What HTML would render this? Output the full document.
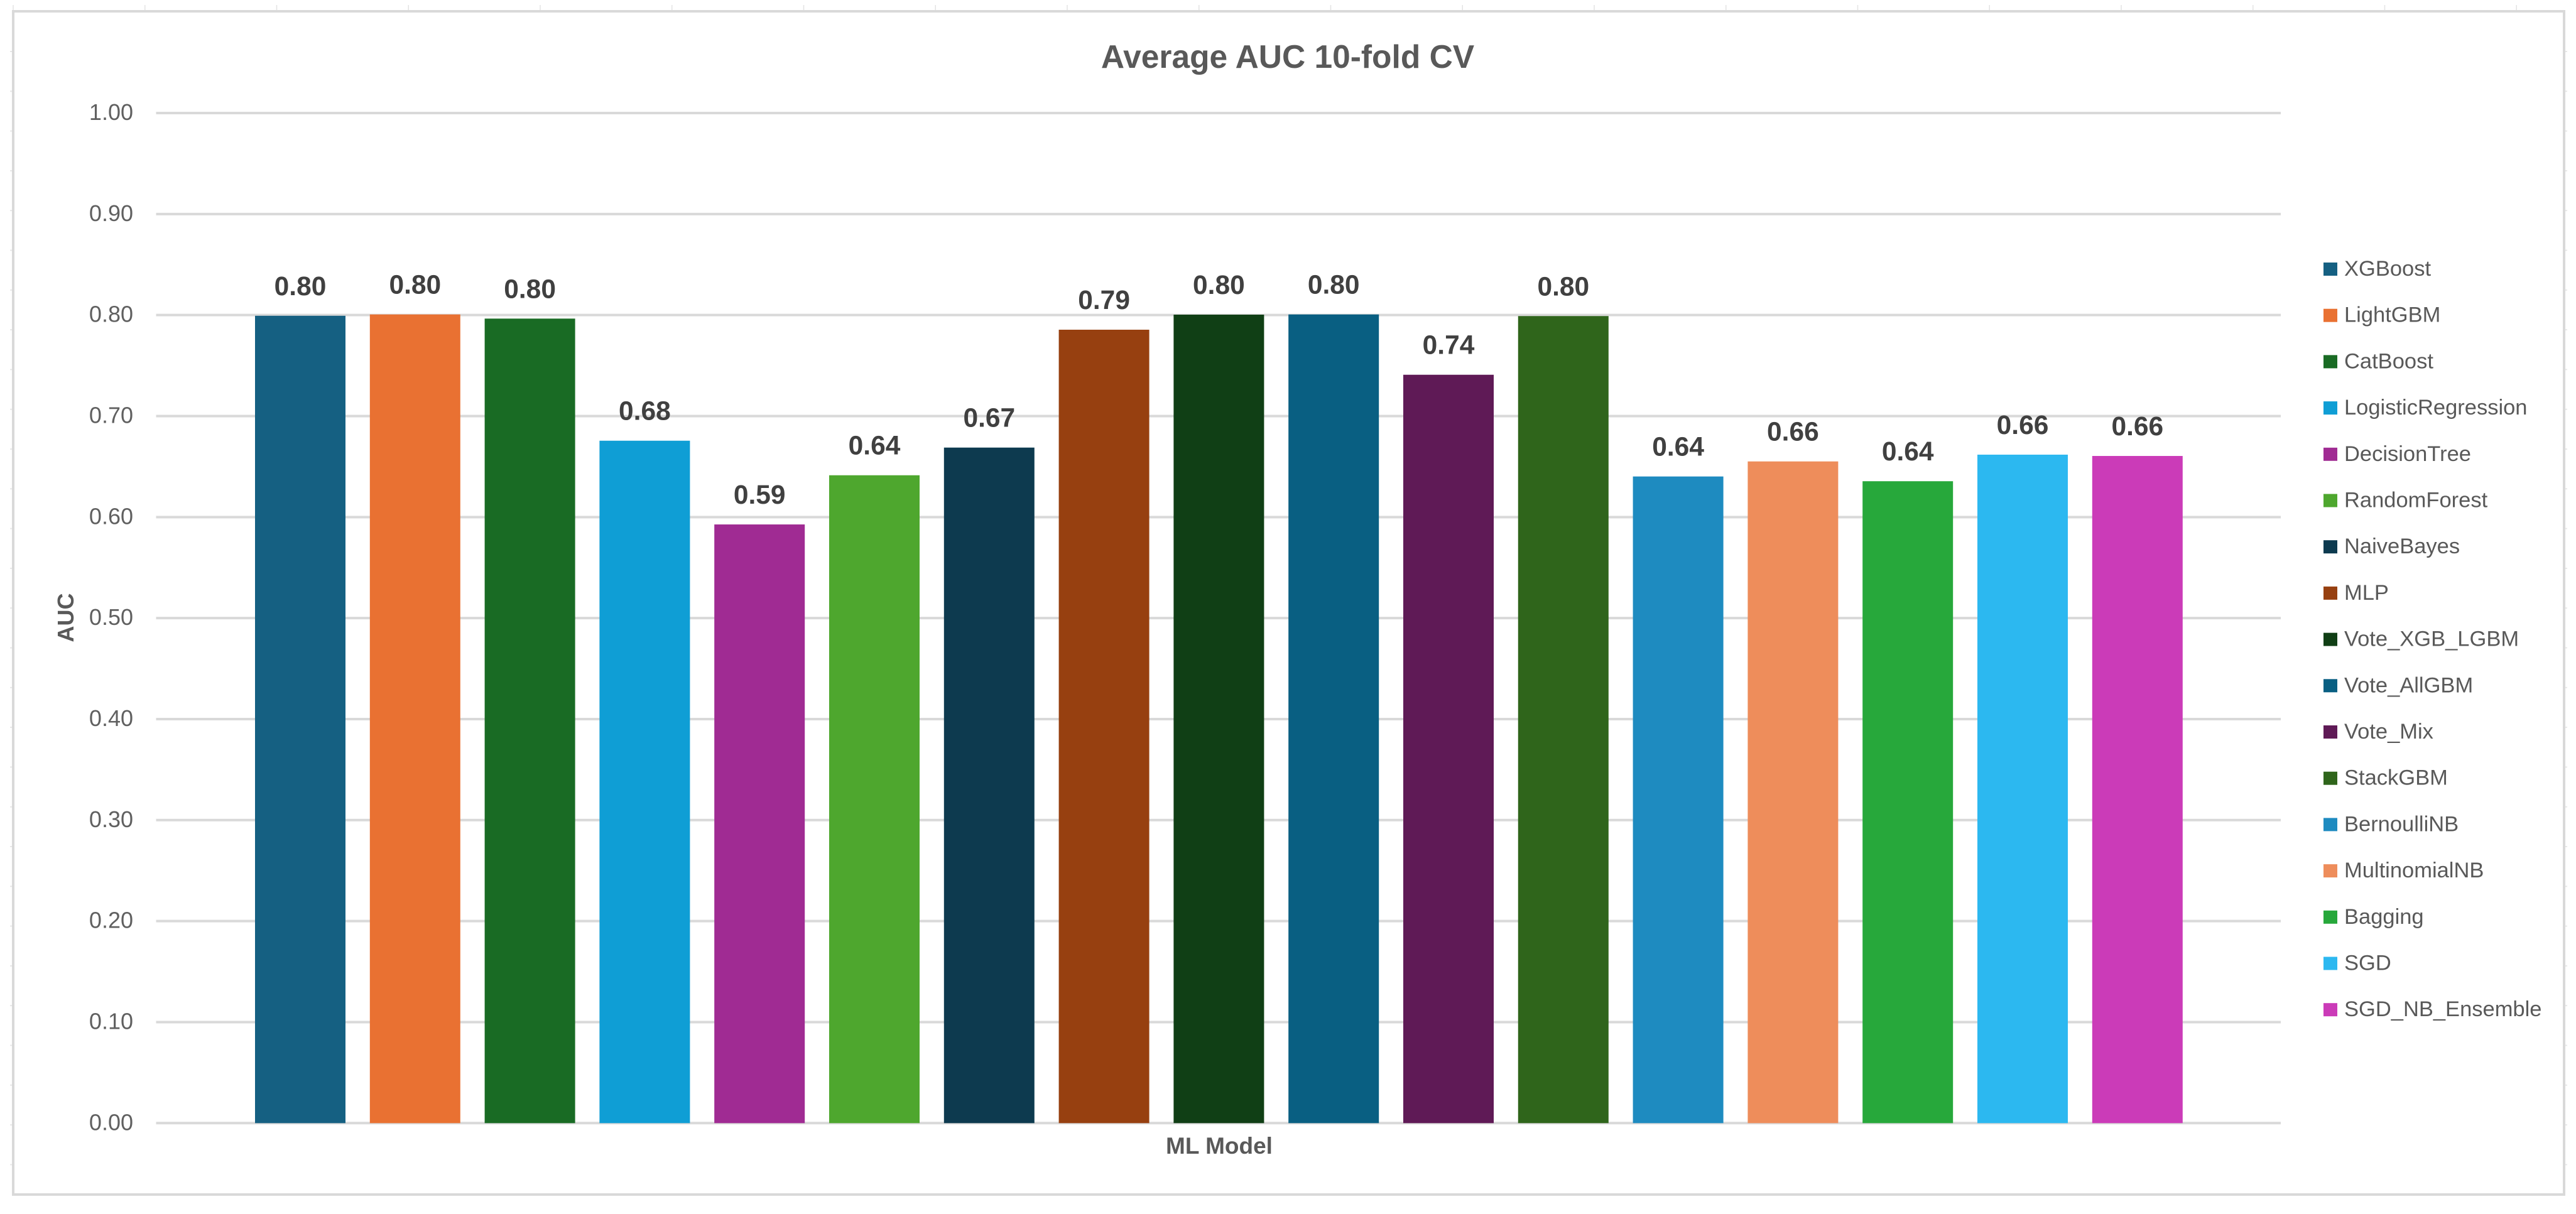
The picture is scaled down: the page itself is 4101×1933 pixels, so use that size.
<!DOCTYPE html>
<html lang="en">
<head>
<meta charset="utf-8">
<title>Average AUC 10-fold CV</title>
<style>
  html, body { margin: 0; padding: 0; background: #ffffff; width: 4101px; height: 1933px; overflow: hidden; }
  svg { display: block; }
  text { font-family: "Liberation Sans", Arial, sans-serif; }
</style>
</head>
<body>
<svg id="chart" xmlns="http://www.w3.org/2000/svg" width="4101" height="1933" viewBox="0 0 4101 1933">
  <rect x="0" y="0" width="4101" height="1933" fill="#ffffff"></rect>
  <g id="frame-ticks"></g>
  <rect x="21" y="18" width="4061" height="1884" fill="#ffffff" stroke="#d9d9d9" stroke-width="4"></rect>
  <text x="2050" y="108" text-anchor="middle" font-size="51.5" font-weight="700" fill="#595959">Average AUC 10-fold CV</text>
  <g id="grid"></g>
  <g id="y-labels"></g>
  <g id="bars"></g>
  <g id="values"></g>
  <text x="0" y="0" transform="translate(117 983.5) rotate(-90)" text-anchor="middle" font-size="36" font-weight="700" fill="#595959">AUC</text>
  <text x="1941" y="1837" text-anchor="middle" font-size="37" font-weight="700" fill="#595959">ML Model</text>
  <g id="legend"></g>
</svg>
<script>
const categories = ["XGBoost", "LightGBM", "CatBoost", "LogisticRegression", "DecisionTree", "RandomForest", "NaiveBayes", "MLP", "Vote_XGB_LGBM", "Vote_AllGBM", "Vote_Mix", "StackGBM", "BernoulliNB", "MultinomialNB", "Bagging", "SGD", "SGD_NB_Ensemble"];
const aucValues = [0.7993, 0.8006, 0.7965, 0.6756, 0.5927, 0.6414, 0.6688, 0.7855, 0.8004, 0.8006, 0.7409, 0.7990, 0.6402, 0.6551, 0.6355, 0.6618, 0.6605];
const yTickValues = [0, 0.1, 0.2, 0.3, 0.4, 0.5, 0.6, 0.7, 0.8, 0.9, 1];
const barColors = ["#156082", "#E97132", "#196B24", "#0F9ED5", "#A02B93", "#4EA72E", "#0D3A4F", "#974010", "#103F15", "#095F82", "#5F1A56", "#2F651B", "#1E8BC0", "#EE8D5B", "#27A83B", "#2CB8F0", "#CB3BB8"];

const SVG_NS = "http://www.w3.org/2000/svg";
const yZero = 1788.3;
const yPerUnit = 1608.3;
const firstBarLeft = 406;
const barPitch = 182.8;
const barWidth = 144;
const gridLeft = 248.5;
const gridRight = 3631;

function yScale(v) { return yZero - v * yPerUnit; }
function xScale(i) { return firstBarLeft + i * barPitch; }
function make(tag, attrs, text) {
  const node = document.createElementNS(SVG_NS, tag);
  for (const k in attrs) node.setAttribute(k, attrs[k]);
  if (text !== undefined) node.textContent = text;
  return node;
}

const frameTicks = document.getElementById("frame-ticks");
for (let x = 21; x < 4082; x += 209.75) {
  const el = make("line", { x1: x, x2: x, y1: 8, y2: 18, stroke: "#e3e3e3", "stroke-width": 1.5 });
  
  
  frameTicks.appendChild(el);
}
for (let y = 82; y < 1902; y += 63.3) {
  const el = make("line", { x1: 16, x2: 21, y1: y, y2: y, stroke: "#e8e8e8", "stroke-width": 2 });
  
  
  frameTicks.appendChild(el);
}
for (let y = 82; y < 1902; y += 63.3) {
  const el = make("line", { x1: 4082, x2: 4087, y1: y, y2: y, stroke: "#e8e8e8", "stroke-width": 2 });
  
  
  frameTicks.appendChild(el);
}

const grid = document.getElementById("grid");
const yLabels = document.getElementById("y-labels");
yTickValues.forEach(function (t) {
  const y = yScale(t);
  const line = make("line", { x1: gridLeft, x2: gridRight, y1: y, y2: y, stroke: "#d9d9d9", "stroke-width": 4 });
  
  
  grid.appendChild(line);
  const label = make("text", { x: 212, y: y + 11, "text-anchor": "end", "font-size": 36, fill: "#606060" }, t.toFixed(2));
  
  
  yLabels.appendChild(label);
});

const bars = document.getElementById("bars");
const values = document.getElementById("values");
aucValues.forEach(function (v, i) {
  const top = yScale(v);
  const bar = make("rect", { x: xScale(i), y: top, width: barWidth, height: yZero - top, fill: barColors[i] });
  
  
  bars.appendChild(bar);
  const label = make("text", { x: xScale(i) + barWidth / 2, y: top - 33, "text-anchor": "middle", "font-size": 42.5, "font-weight": 700, fill: "#404040" }, v.toFixed(2));
  
  
  values.appendChild(label);
});

const legend = document.getElementById("legend");
categories.forEach(function (name, i) {
  const bottom = 439 + i * 73.7;
  const swatch = make("rect", { x: 3699, y: bottom - 21, width: 22, height: 21, fill: barColors[i] });
  
  
  legend.appendChild(swatch);
  const label = make("text", { x: 3732, y: bottom, "font-size": 34.5, fill: "#595959" }, name);
  
  
  legend.appendChild(label);
});
</script>
</body>
</html>
